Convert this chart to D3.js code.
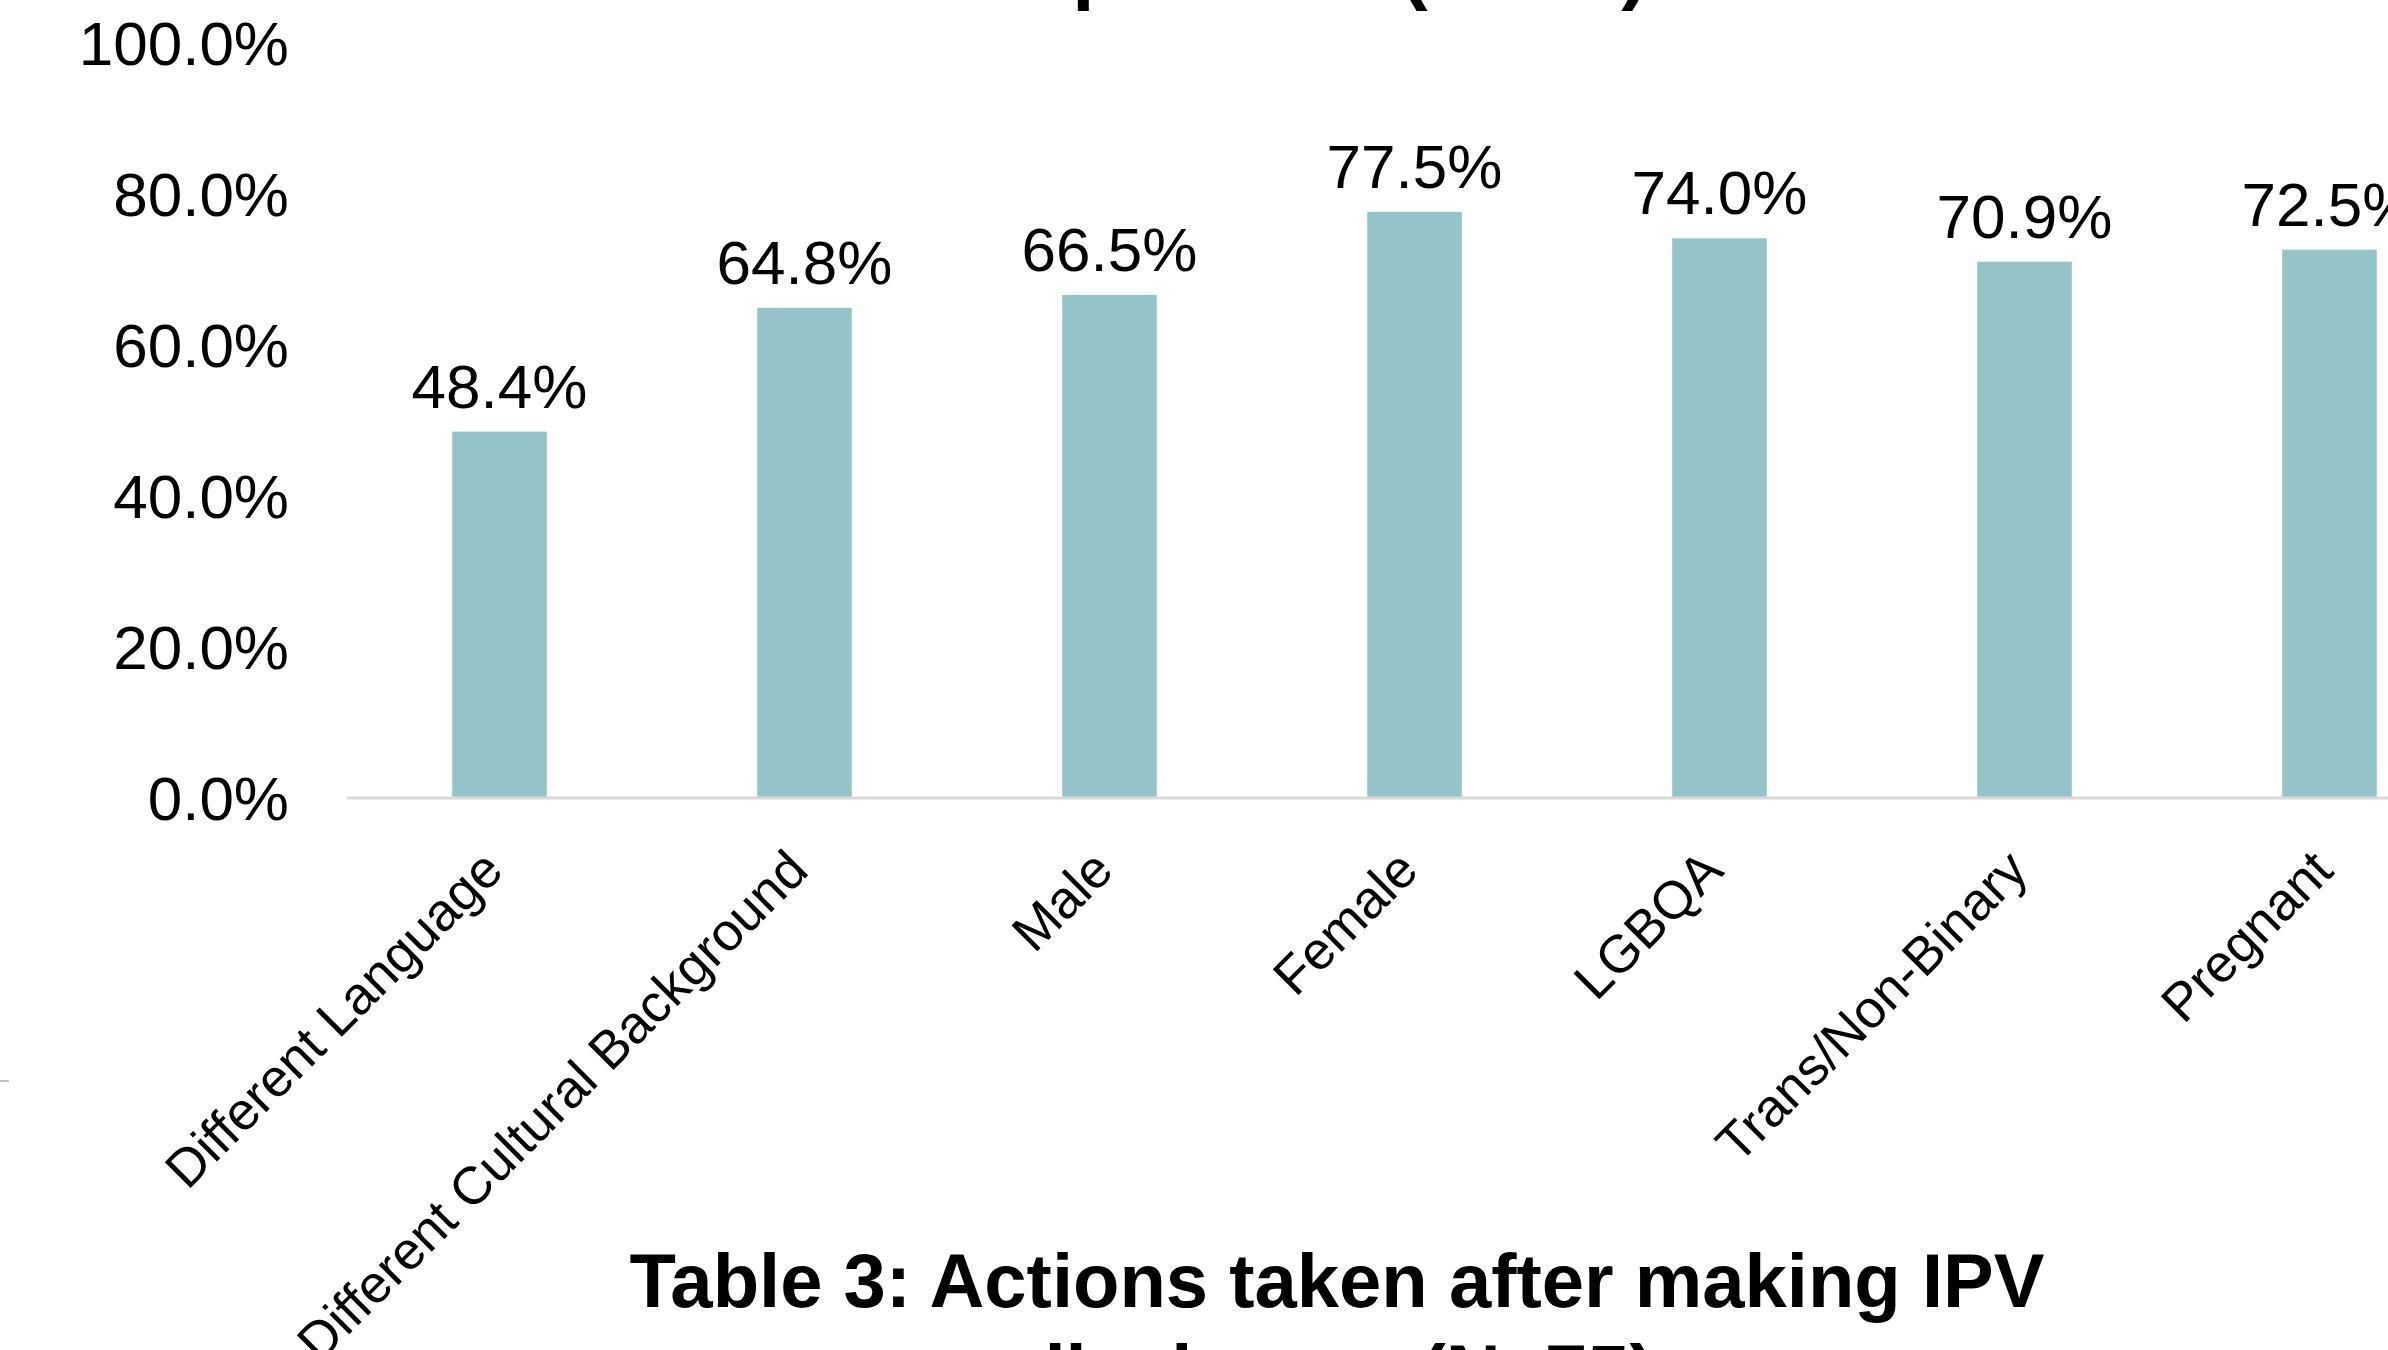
<!DOCTYPE html>
<html>
<head>
<meta charset="utf-8">
<script src="https://cdn.jsdelivr.net/npm/d3@7"></script>
<style>
  body { margin: 0; background: #fff; }
  svg { display: block; font-family: "Liberation Sans", Arial, sans-serif; }
</style>
</head>
<body>
<div id="chart"></div>
<script>
// data
var categories = ["Different Language", "Different Cultural Background", "Male", "Female", "LGBQA", "Trans/Non-Binary", "Pregnant"];
var values = [48.4, 64.8, 66.5, 77.5, 74.0, 70.9, 72.5];
var yTicks = [0, 20, 40, 60, 80, 100];
var topTitle = "patients (N=75)";
var bottomTitle = ["Table 3: Actions taken after making IPV", "disclosure (N=75)"];

var width = 2388, height = 1350;
var baseY = 797, topY = 42, left = 347;

var svg = d3.select("#chart")
  .append("svg")
  .attr("width", width)
  .attr("height", height);

var x = d3.scaleBand()
  .domain(categories)
  .range([left, left + 305 * categories.length])
  .paddingInner(0.69)
  .paddingOuter(0.345);

var y = d3.scaleLinear().domain([0, 100]).range([baseY, topY]);

// y axis labels (no line, no ticks)
var yAxis = d3.axisLeft(y)
  .tickValues(yTicks)
  .tickSize(0)
  .tickPadding(0)
  .tickFormat(function (d) { return d.toFixed(1) + "%"; });

svg.append("g")
  .attr("class", "y axis")
  .attr("transform", "translate(289,0)")
  .call(yAxis)
  .call(function (g) { g.select(".domain").remove(); })
  .selectAll("text")
  .attr("font-size", 62)
  .attr("font-family", "Liberation Sans, Arial, sans-serif")
  .attr("fill", "#000")
  .attr("dy", "0.36em");

// bars
svg.selectAll(".bar")
  .data(values)
  .enter().append("rect")
  .attr("class", "bar")
  .attr("x", function (d, i) { return x(categories[i]); })
  .attr("y", function (d) { return y(d); })
  .attr("width", x.bandwidth())
  .attr("height", function (d) { return baseY - y(d); })
  .attr("fill", "#94c3c8");

// baseline
svg.append("line")
  .attr("x1", left).attr("x2", width)
  .attr("y1", baseY + 1).attr("y2", baseY + 1)
  .attr("stroke", "#d9d9d9")
  .attr("stroke-width", 3);

// value labels
svg.selectAll(".val")
  .data(values)
  .enter().append("text")
  .attr("class", "val")
  .attr("x", function (d, i) { return x(categories[i]) + x.bandwidth() / 2; })
  .attr("y", function (d) { return y(d) - 24; })
  .attr("text-anchor", "middle")
  .attr("font-size", 62)
  .attr("fill", "#000")
  .text(function (d) { return d.toFixed(1) + "%"; });

// category labels, rotated
svg.selectAll(".cat")
  .data(categories)
  .enter().append("text")
  .attr("class", "cat")
  .attr("transform", function (d) {
    return "translate(" + (x(d) + x.bandwidth() / 2 + 6) + "," + (baseY + 76) + ") rotate(-45)";
  })
  .attr("text-anchor", "end")
  .attr("font-size", 53)
  .attr("fill", "#000")
  .text(function (d) { return d; });

// title of the chart above (cut off by the frame)
svg.append("text")
  .attr("x", 1360)
  .attr("y", -6)
  .attr("text-anchor", "middle")
  .attr("font-size", 80)
  .attr("font-weight", "bold")
  .attr("fill", "#000")
  .text(topTitle);

// caption under the chart
svg.selectAll(".caption")
  .data(bottomTitle)
  .enter().append("text")
  .attr("class", "caption")
  .attr("x", 1337)
  .attr("y", function (d, i) { return 1307 + i * 91; })
  .attr("text-anchor", "middle")
  .attr("font-size", 76)
  .attr("font-weight", "bold")
  .attr("fill", "#000")
  .text(function (d) { return d; });

// small stray mark at the left edge
svg.append("line")
  .attr("x1", 0).attr("x2", 9)
  .attr("y1", 1081).attr("y2", 1081)
  .attr("stroke", "#bfbfbf")
  .attr("stroke-width", 2);
</script>
</body>
</html>
